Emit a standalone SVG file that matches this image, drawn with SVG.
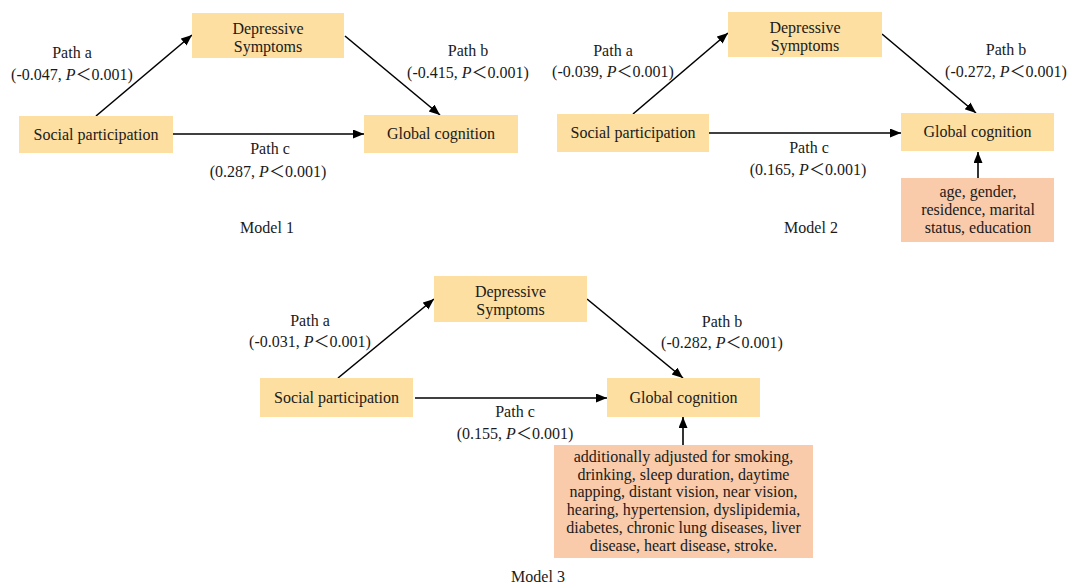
<svg xmlns="http://www.w3.org/2000/svg" width="1071" height="585" viewBox="0 0 1071 585">
<style>
text{font-family:"Liberation Serif","Noto Sans CJK SC",serif;font-size:16px;fill:#1a1a1a;text-anchor:middle}
.box{fill:#FCDFA1}
.cov{fill:#F9CBAB}
.edge{stroke:#000;stroke-width:1.6;fill:none;marker-end:url(#ah)}
.it{font-style:italic}
</style>
<defs>
<marker id="ah" markerUnits="userSpaceOnUse" markerWidth="12" markerHeight="10" refX="11" refY="4.5" orient="auto">
<path d="M0,0 L11,4.5 L0,9 z" fill="#000"/>
</marker>
</defs>
<rect width="1071" height="585" fill="#fff"/>

<g id="connectors">
<line class="edge" x1="96" y1="116" x2="192" y2="35"/>
<line class="edge" x1="345" y1="36" x2="440" y2="115"/>
<line class="edge" x1="173" y1="134" x2="364" y2="134"/>
<line class="edge" x1="633" y1="114" x2="728" y2="33"/>
<line class="edge" x1="882" y1="34" x2="976" y2="113"/>
<line class="edge" x1="709" y1="133" x2="901" y2="133"/>
<line class="edge" x1="978" y1="178" x2="978" y2="152"/>
<line class="edge" x1="338" y1="378" x2="434" y2="299"/>
<line class="edge" x1="587" y1="299" x2="683" y2="378"/>
<line class="edge" x1="415" y1="398" x2="607" y2="398"/>
<line class="edge" x1="683" y1="445" x2="683" y2="417"/>
</g>

<!-- Model 1 -->
<g id="m1-social"><rect class="box" x="19" y="116" width="154" height="37"/><text x="96" y="140">Social participation</text></g>
<g id="m1-depressive"><rect class="box" x="192" y="13" width="152" height="45"/><text x="268" y="34">Depressive</text><text x="268" y="52">Symptoms</text></g>
<g id="m1-global"><rect class="box" x="364" y="115" width="154" height="38"/><text x="441" y="139">Global cognition</text></g>
<g id="m1-labels">
<text x="72" y="58">Path a</text>
<text x="72" y="80">(-0.047, <tspan class="it">P</tspan>＜0.001)</text>
<text x="468" y="56">Path b</text>
<text x="468" y="78">(-0.415, <tspan class="it">P</tspan>＜0.001)</text>
<text x="270" y="154">Path c</text>
<text x="268" y="177">(0.287, <tspan class="it">P</tspan>＜0.001)</text>
<text x="267" y="233">Model 1</text>
</g>

<!-- Model 2 -->
<g id="m2-social"><rect class="box" x="557" y="114" width="152" height="38"/><text x="633" y="138">Social participation</text></g>
<g id="m2-depressive"><rect class="box" x="728" y="12" width="154" height="45"/><text x="805" y="33">Depressive</text><text x="805" y="51">Symptoms</text></g>
<g id="m2-global"><rect class="box" x="901" y="113" width="153" height="38"/><text x="977.5" y="137">Global cognition</text></g>
<g id="m2-covariates"><rect class="cov" x="901" y="178" width="153" height="64"/>
<text x="978" y="197">age, gender,</text>
<text x="978" y="215">residence, marital</text>
<text x="978" y="233">status, education</text></g>
<g id="m2-labels">
<text x="613" y="56">Path a</text>
<text x="613" y="77">(-0.039, <tspan class="it">P</tspan>＜0.001)</text>
<text x="1006" y="55">Path b</text>
<text x="1006" y="77">(-0.272, <tspan class="it">P</tspan>＜0.001)</text>
<text x="809" y="153">Path c</text>
<text x="808" y="175">(0.165, <tspan class="it">P</tspan>＜0.001)</text>
<text x="811" y="233">Model 2</text>
</g>

<!-- Model 3 -->
<g id="m3-social"><rect class="box" x="260" y="378" width="153" height="39"/><text x="336.5" y="403">Social participation</text></g>
<g id="m3-depressive"><rect class="box" x="434" y="276" width="153" height="46"/><text x="510.5" y="297">Depressive</text><text x="510.5" y="315">Symptoms</text></g>
<g id="m3-global"><rect class="box" x="607" y="378" width="153" height="39"/><text x="683.5" y="403">Global cognition</text></g>
<g id="m3-covariates"><rect class="cov" x="554" y="445" width="259" height="113"/>
<text x="683.5" y="462">additionally adjusted for smoking,</text>
<text x="683.5" y="480">drinking, sleep duration, daytime</text>
<text x="683.5" y="497">napping, distant vision, near vision,</text>
<text x="683.5" y="515">hearing, hypertension, dyslipidemia,</text>
<text x="683.5" y="533">diabetes, chronic lung diseases, liver</text>
<text x="683.5" y="551">disease, heart disease, stroke.</text></g>
<g id="m3-labels">
<text x="310" y="326">Path a</text>
<text x="310" y="347">(-0.031, <tspan class="it">P</tspan>＜0.001)</text>
<text x="722" y="327">Path b</text>
<text x="722" y="348">(-0.282, <tspan class="it">P</tspan>＜0.001)</text>
<text x="515" y="417">Path c</text>
<text x="515" y="439">(0.155, <tspan class="it">P</tspan>＜0.001)</text>
<text x="538" y="582">Model 3</text>
</g>
</svg>
